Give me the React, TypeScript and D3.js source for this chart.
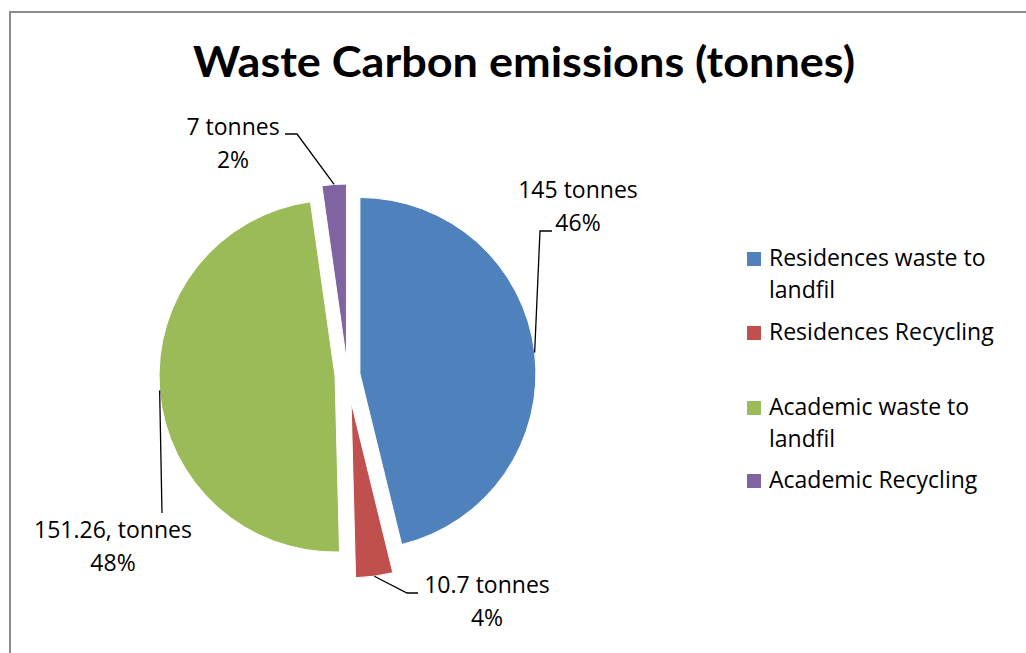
import React from "react";
import * as d3 from "d3";

// ---- data ----
const categories = [
  "Residences waste to landfil",
  "Residences Recycling",
  "Academic waste to landfil",
  "Academic Recycling",
];
const values = [145, 10.7, 151.26, 7];
const valueLabels = ["145 tonnes", "10.7 tonnes", "151.26, tonnes", "7 tonnes"];
const percentLabels = ["46%", "4%", "48%", "2%"];
const legendLines = [
  ["Residences waste to", "landfil"],
  ["Residences Recycling"],
  ["Academic waste to", "landfil"],
  ["Academic Recycling"],
];
const title = "Waste Carbon emissions (tonnes)";

// ---- styles / layout ----
const colors = ["#4F81BD", "#C0504D", "#9BBB59", "#8064A2"];
const explode = [12.5, 27, 12.5, 15];
const FONT = "'Open Sans', Lato, sans-serif";
const TITLE_FONT = "Lato, 'Open Sans', sans-serif";
const W = 1026;
const H = 653;
const CX = 347.5;
const CY = 375;
const R = 176;
const FS = 23;

// label layout: text center x, first baseline, elbow & end of leader
const labelLayout = [
  { x: 578, y: 198, pts: [[540, 231], [552, 231]] },
  { x: 487, y: 593, pts: [[407, 593], [418, 593]] },
  { x: 113, y: 538, pts: [[162, 513]] },
  { x: 233, y: 135, pts: [[297, 134], [285, 134]] },
];
const legendLayout = { x: 747, textX: 769, baselines: [266, 340, 415, 488], lineGap: 32, box: 14 };

export default function App() {
  const pie = d3
    .pie<number>()
    .sort(null)
    .value((d) => d)
    .startAngle(0)
    .endAngle(2 * Math.PI);
  const arcs = pie(values);
  const arc = d3.arc<d3.PieArcDatum<number>>().innerRadius(0).outerRadius(R);

  return (
    <svg
      width={W}
      height={H}
      style={{ position: "absolute", left: 0, top: 0, display: "block", background: "#fff" }}
      fontFamily={FONT}
    >
      <rect x={0} y={0} width={W} height={H} fill="#fff" />
      <rect x={10} y={12} width={W + 20} height={H + 20} fill="#fff" stroke="#8c8c8c" strokeWidth={2} />
      <text
        x={524}
        y={77}
        textAnchor="middle"
        fontSize={42}
        fontWeight="bold"
        fontFamily={TITLE_FONT}
        textLength={662}
        lengthAdjust="spacingAndGlyphs"
        fill="#000"
      >
        {title}
      </text>

      {arcs.map((a, i) => {
        const mid = (a.startAngle + a.endAngle) / 2;
        const ox = CX + explode[i] * Math.sin(mid);
        const oy = CY - explode[i] * Math.cos(mid);
        return (
          <g key={categories[i]} transform={`translate(${ox},${oy})`}>
            <path d={arc(a) || ""} fill={colors[i]} stroke="#fff" strokeWidth={1} />
          </g>
        );
      })}

      {arcs.map((a, i) => {
        const mid = (a.startAngle + a.endAngle) / 2;
        const sx = CX + (explode[i] + R) * Math.sin(mid);
        const sy = CY - (explode[i] + R) * Math.cos(mid);
        const pts: [number, number][] = [[sx, sy], ...(labelLayout[i].pts as [number, number][])];
        const line = d3.line()(pts) || "";
        return <path key={"l" + i} d={line} fill="none" stroke="#000" strokeWidth={1.3} />;
      })}

      {valueLabels.map((t, i) => (
        <g key={"t" + i} fontSize={FS} fill="#000" textAnchor="middle">
          <text x={labelLayout[i].x} y={labelLayout[i].y}>{t}</text>
          <text x={labelLayout[i].x} y={labelLayout[i].y + 33}>{percentLabels[i]}</text>
        </g>
      ))}

      {categories.map((c, i) => (
        <g key={"lg" + i}>
          <rect
            x={legendLayout.x}
            y={legendLayout.baselines[i] - legendLayout.box}
            width={legendLayout.box}
            height={legendLayout.box}
            fill={colors[i]}
          />
          {legendLines[i].map((ln, j) => (
            <text
              key={j}
              x={legendLayout.textX}
              y={legendLayout.baselines[i] + j * legendLayout.lineGap}
              fontSize={FS}
              fill="#000"
            >
              {ln}
            </text>
          ))}
        </g>
      ))}
    </svg>
  );
}
